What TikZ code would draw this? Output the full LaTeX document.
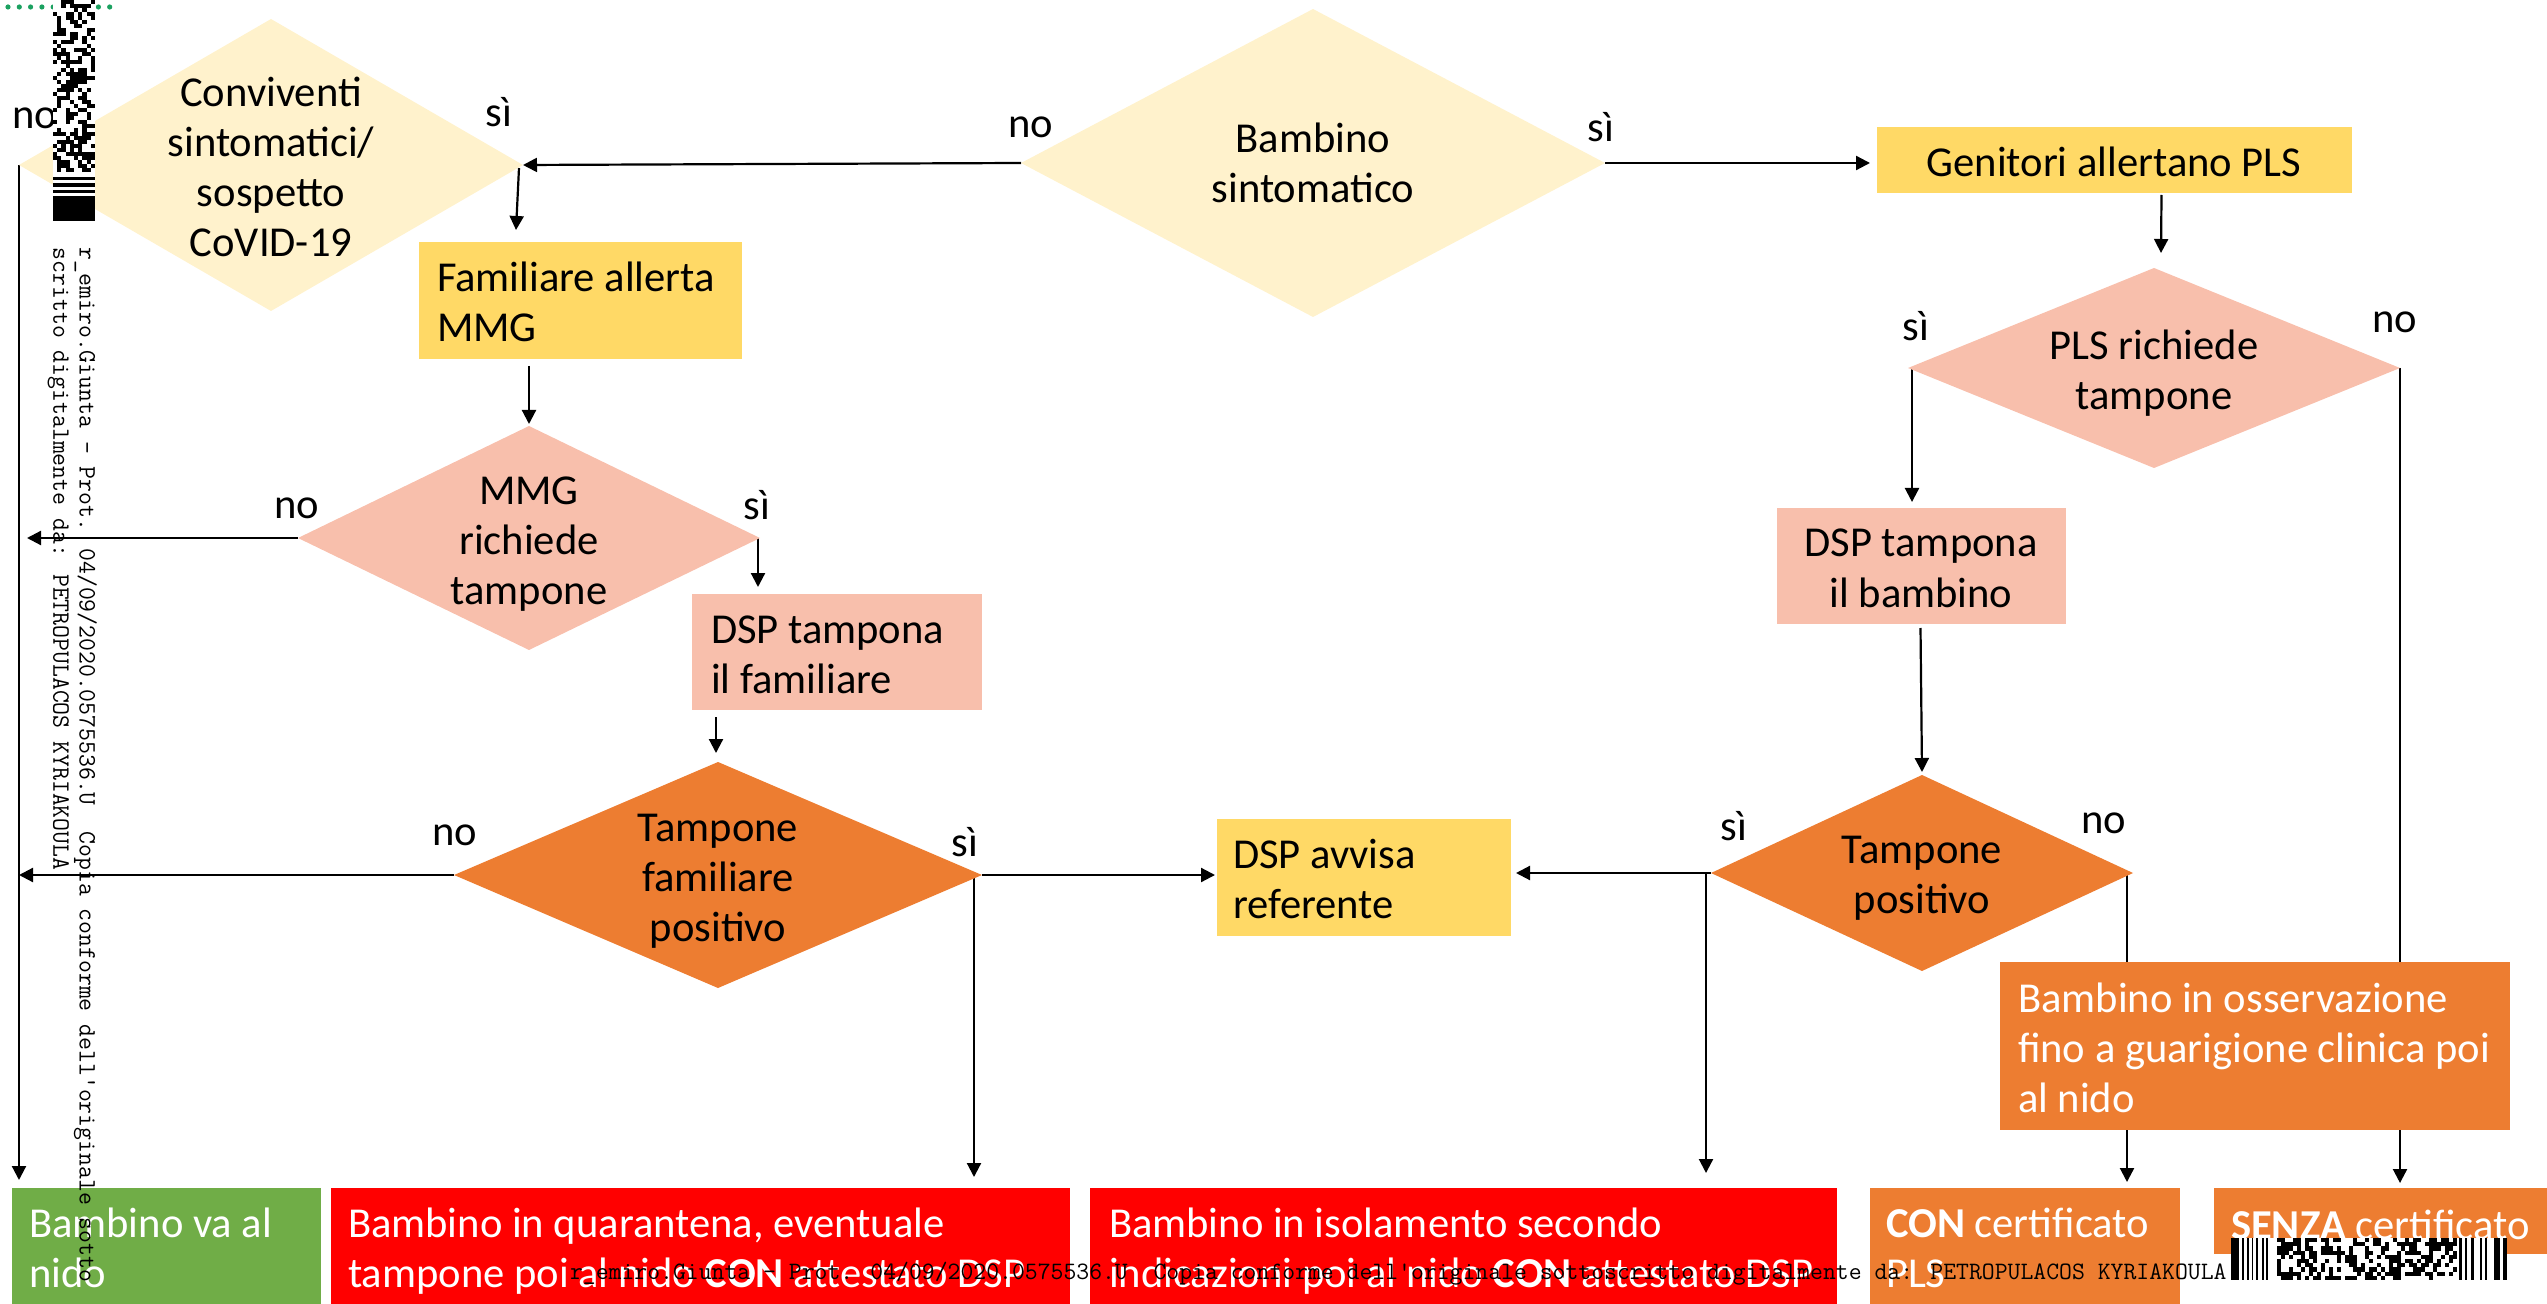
\documentclass[tikz,border=0pt]{standalone}
\usepackage{fontspec}
\setmainfont{Carlito}
\usetikzlibrary{shapes.geometric, arrows.meta, calc, backgrounds}
\definecolor{cvfill}{HTML}{FFF2CC}
\definecolor{gold}{HTML}{FFD966}
\definecolor{salmon}{HTML}{F8BFAC}
\definecolor{orng}{HTML}{ED7D31}
\definecolor{redbox}{HTML}{FF0000}
\definecolor{greenbox}{HTML}{70AD47}
\definecolor{dotgreen}{HTML}{1BA160}
\newcommand\ls{\rule[-7.5pt]{0pt}{25pt}}
\begin{document}
\begin{tikzpicture}[x=0.5pt, y=-0.5pt,
  dia/.style={diamond, draw=none, inner sep=0pt, outer sep=0pt},
  box/.style={rectangle, draw=none, inner sep=0pt, outer sep=0pt},
  txt/.style={inner sep=0pt, outer sep=0pt, font=\fontsize{21.3pt}{25pt}\selectfont},
  ctxt/.style={txt, align=center},
  ltxt/.style={txt, align=left, anchor=west},
  wtxt/.style={ltxt, text=white},
  arr/.style={-{Triangle[length=7pt,width=7pt]}, line width=1.1pt},
  wm/.style={inner sep=0pt, outer sep=0pt, font=\ttfamily\fontsize{12.5pt}{14pt}\selectfont}
]
\useasboundingbox (0,0) rectangle (2547,1304);

% decision diamonds
\node[dia, fill=cvfill, minimum width=252pt, minimum height=146pt] (CV) at (271,165) {};
\node[dia, fill=cvfill, minimum width=292pt, minimum height=154pt] (BS) at (1313,163) {};
\node[dia, fill=salmon, minimum width=246pt, minimum height=100pt] (PLS) at (2154,368) {};
\node[dia, fill=salmon, minimum width=231pt, minimum height=112pt] (MMG) at (529,538) {};
\node[dia, fill=orng, minimum width=264pt, minimum height=113pt] (TF) at (718,875) {};
\node[dia, fill=orng, minimum width=211pt, minimum height=98pt] (TP) at (1922,873) {};

% boxes
\node[box, fill=gold, minimum width=237.5pt, minimum height=33pt] (GEN) at (2114.5,160) {};
\node[box, fill=gold, minimum width=161.5pt, minimum height=58.5pt] (FAM) at (580.5,300.5) {};
\node[box, fill=salmon, minimum width=145pt, minimum height=58pt] (DSPF) at (837,652) {};
\node[box, fill=salmon, minimum width=144.5pt, minimum height=58pt] (DSPB) at (1921.5,566) {};
\node[box, fill=gold, minimum width=147pt, minimum height=58.5pt] (DAV) at (1364,877.5) {};
\node[box, fill=orng, minimum width=255pt, minimum height=84pt] (OBS) at (2255,1046) {};
\node[box, fill=greenbox, minimum width=154.5pt, minimum height=58pt] (GREEN) at (166.5,1246) {};
\node[box, fill=redbox, minimum width=369.5pt, minimum height=58pt] (RED1) at (700.5,1246) {};
\node[box, fill=redbox, minimum width=373.5pt, minimum height=58pt] (RED2) at (1463.5,1246) {};
\node[box, fill=orng, minimum width=155pt, minimum height=58pt] (CON) at (2025,1246) {};
\node[box, fill=orng, minimum width=166.5pt, minimum height=33pt] (SENZA) at (2380.5,1221) {};

% texts
\node[ctxt] (tCV) at (271,171.5) {\ls Conviventi\\\ls sintomatici/\\\ls sospetto\\\ls CoVID-19};
\node[ctxt] (tBS) at (1313,168) {\ls Bambino\\\ls sintomatico};
\node[ctxt] (tPLS) at (2154,374.5) {\ls PLS richiede\\\ls tampone};
\node[ctxt] (tMMG) at (529,544) {\ls MMG\\\ls richiede\\\ls tampone};
\node[ctxt] (tTF) at (718,881) {\ls Tampone\\\ls familiare\\\ls positivo};
\node[ctxt] (tTP) at (1922,878.5) {\ls Tampone\\\ls positivo};
\node[ctxt] (tGEN) at (2114,167) {\ls Genitori allertano PLS};
\node[ltxt] (tFAM) at (437,306.5) {\ls Familiare allerta\\\ls MMG};
\node[ltxt] (tDSPF) at (711,658) {\ls DSP tampona\\\ls il familiare};
\node[ctxt] (tDSPB) at (1921,572) {\ls DSP tampona\\\ls il bambino};
\node[ltxt] (tDAV) at (1233,883.5) {\ls DSP avvisa\\\ls referente};
\node[wtxt] (tOBS) at (2018,1052.5) {\ls Bambino in osservazione\\\ls fino a guarigione clinica poi\\\ls al nido};
\node[wtxt] (tGREEN) at (29,1252) {\ls Bambino va al\\\ls nido};
\node[wtxt] (tRED1) at (348,1252) {\ls Bambino in quarantena, eventuale\\\ls tampone poi al nido \textbf{CON} attestato DSP};
\node[wtxt] (tRED2) at (1109,1252) {\ls Bambino in isolamento secondo\\\ls indicazioni poi al nido \textbf{CON} attestato DSP};
\node[wtxt] (tCON) at (1886,1252) {\ls \textbf{CON} certificato\\\ls PLS};
\node[wtxt] (tSENZA) at (2231,1229) {\ls \textbf{SENZA} certificato};

% yes/no labels
\node[ctxt] (lCVno) at (35,119) {\ls no};
\node[ctxt] (lCVsi) at (499,117) {\ls sì};
\node[ctxt] (lBSno) at (1031,128) {\ls no};
\node[ctxt] (lBSsi) at (1601,132) {\ls sì};
\node[ctxt] (lPLSsi) at (1916,331) {\ls sì};
\node[ctxt] (lPLSno) at (2395,323) {\ls no};
\node[ctxt] (lMMGsi) at (757,510) {\ls sì};
\node[ctxt] (lMMGno) at (297,508) {\ls no};
\node[ctxt] (lTFno) at (455,835) {\ls no};
\node[ctxt] (lTFsi) at (965,846) {\ls sì};
\node[ctxt] (lTPsi) at (1734,830) {\ls sì};
\node[ctxt] (lTPno) at (2104,823) {\ls no};

% connectors
\begin{scope}[on background layer]
\draw[arr] (BS.west) -- (CV.east);
\draw[arr] ($(CV.east)+(-4,3)$) -- ($(FAM.north west)+(97,-12)$);
\draw[arr] (CV.west) -- ($(CV.west |- GREEN.north)+(0,-8)$);
\draw[arr] (BS.east) -- ($(BS.east -| GEN.west)+(-7,0)$);
\draw[arr] ($(GEN.south)+(47,2)$) -- ($(PLS.north)+(7,-15)$);
\coordinate (plsS) at ($(PLS.west)+(4,0)$);
\draw[arr] (plsS) -- ($(plsS |- DSPB.north)+(0,-6)$);
\draw[arr] (PLS.east) -- ($(PLS.east |- SENZA.north)+(0,-5)$);
\draw[arr] ($(DSPB.south)+(-1,4)$) -- ($(TP.north)+(0,-3)$);
\draw[arr] (TP.west) -- ($(TP.west -| DAV.east)+(5,0)$);
\coordinate (tpS) at ($(TP.west)+(-5,0)$);
\draw[arr] (tpS) -- ($(tpS |- RED2.north)+(0,-15)$);
\coordinate (tpN) at ($(TP.east)+(-6,0)$);
\draw[arr] (tpN) -- ($(tpN |- CON.north)+(0,-6)$);
\draw[arr] ($(FAM.south)+(-51.5,7)$) -- ($(MMG.north)+(0,-2)$);
\coordinate (mmgS) at ($(MMG.east)+(-2,0)$);
\draw[arr] (mmgS) -- ($(mmgS |- DSPF.north)+(0,-7)$);
\draw[arr] (MMG.west) -- ($(MMG.west -| CV.west)+(8,0)$);
\draw[arr] ($(DSPF.south)+(-121,7)$) -- ($(TF.north)+(-2,-9)$);
\draw[arr] (TF.west) -- (TF.west -| CV.west);
\draw[arr] (TF.east) -- ($(TF.east -| DAV.west)+(-2,0)$);
\coordinate (tfS) at ($(TF.east)+(-8,0)$);
\draw[arr] (tfS) -- ($(tfS |- RED1.north)+(0,-11)$);
\end{scope}

% watermark texts
\node[wm, rotate=-90, anchor=base west] (wm1) at (79.5,248) {r\_emiro.Giunta - Prot. 04/09/2020.0575536.U\ \ Copia conforme dell\textquotesingle originale sotto};
\node[wm, rotate=-90, anchor=base west] (wm2) at (53.5,248) {scritto digitalmente da: PETROPULACOS KYRIAKOULA};
\node[wm, anchor=base west] (wm3) at (570,1279) {r\_emiro.Giunta - Prot. 04/09/2020.0575536.U\ \ Copia conforme dell\textquotesingle originale sottoscritto digitalmente da: PETROPULACOS KYRIAKOULA};

% green dotted line
\foreach \k in {0,...,9} \fill[dotgreen] ({8+11.3*\k},7) circle[radius=1.3pt];

% top-left barcode
\pgfmathsetseed{4242}
\fill[white] (53,0) rectangle (95,221);
\foreach \i in {0,...,9}{\foreach \j in {0,...,42}{%
  \pgfmathrandominteger{\rv}{0}{1}%
  \ifnum\rv=1 \fill[black] ({53+4.2*\i},{4*\j}) rectangle ++(4.2,4);\fi}}
\foreach \a/\b in {177/180,183/187,190/193,196/200} \fill[black] (53,\a) rectangle (95,\b);
\fill[black] (53,200) rectangle (95,221);

% bottom-right barcode
\fill[white] (2231,1238) rectangle (2507,1280);
\foreach \a/\b in {2231/2239,2242/2244,2247/2249,2252/2253,2256/2258,2262/2264,2266/2268,2459/2462,2465/2467,2471/2474,2480/2482,2485/2487,2494/2500,2503/2507}
  \fill[black] (\a,1238) rectangle (\b,1280);
\pgfmathsetseed{777}
\foreach \i in {0,...,44}{\foreach \j in {0,...,9}{%
  \pgfmathrandominteger{\rv}{0}{1}%
  \ifnum\rv=1 \fill[black] ({2277+4*\i},{1238+4.2*\j}) rectangle ++(4,4.2);\fi}}
\end{tikzpicture}
\end{document}
